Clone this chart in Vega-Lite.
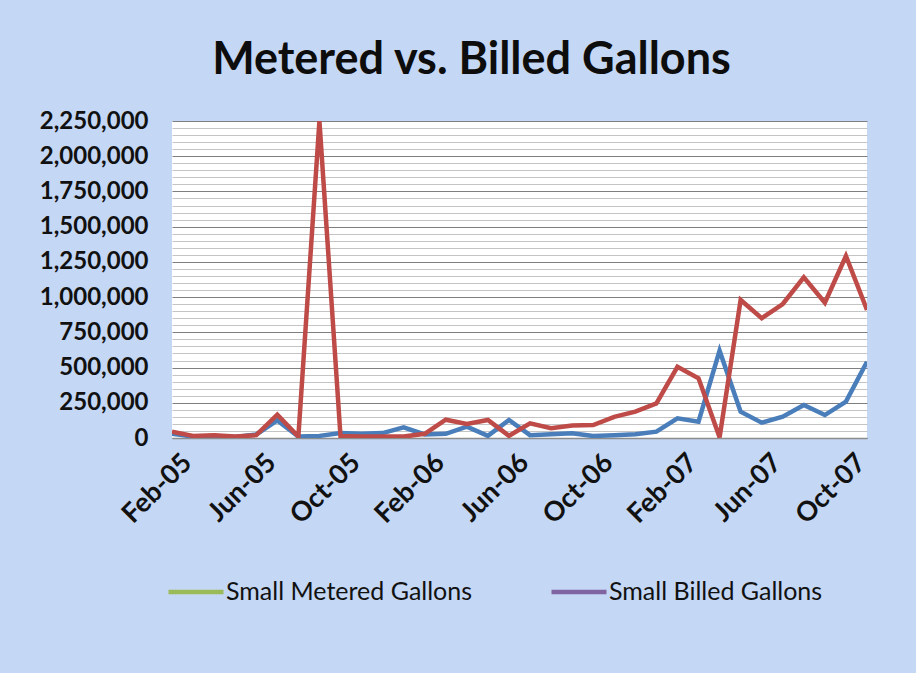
{
  "$schema": "https://vega.github.io/schema/vega-lite/v6.json",
  "width": 695,
  "height": 317,
  "autosize": {"type": "none"},
  "padding": {"left": 172, "top": 121, "right": 49, "bottom": 235},
  "background": "#c4d7f4",
  "title": {"text": "Metered vs. Billed Gallons", "font": "Lato", "fontSize": 45, "fontWeight": "bold", "color": "#0d0d0d", "anchor": "middle", "dx": -48, "offset": 26},
  "data": {"values": [
    {"month": "Feb-05", "Small Metered Gallons": 30000, "Small Billed Gallons": 45000},
    {"month": "Mar-05", "Small Metered Gallons": 10000, "Small Billed Gallons": 15000},
    {"month": "Apr-05", "Small Metered Gallons": 15000, "Small Billed Gallons": 20000},
    {"month": "May-05", "Small Metered Gallons": 8000, "Small Billed Gallons": 10000},
    {"month": "Jun-05", "Small Metered Gallons": 25000, "Small Billed Gallons": 20000},
    {"month": "Jul-05", "Small Metered Gallons": 125000, "Small Billed Gallons": 165000},
    {"month": "Aug-05", "Small Metered Gallons": 10000, "Small Billed Gallons": 10000},
    {"month": "Sep-05", "Small Metered Gallons": 15000, "Small Billed Gallons": 2250000},
    {"month": "Oct-05", "Small Metered Gallons": 35000, "Small Billed Gallons": 15000},
    {"month": "Nov-05", "Small Metered Gallons": 30000, "Small Billed Gallons": 10000},
    {"month": "Dec-05", "Small Metered Gallons": 35000, "Small Billed Gallons": 10000},
    {"month": "Jan-06", "Small Metered Gallons": 75000, "Small Billed Gallons": 10000},
    {"month": "Feb-06", "Small Metered Gallons": 25000, "Small Billed Gallons": 30000},
    {"month": "Mar-06", "Small Metered Gallons": 30000, "Small Billed Gallons": 130000},
    {"month": "Apr-06", "Small Metered Gallons": 80000, "Small Billed Gallons": 100000},
    {"month": "May-06", "Small Metered Gallons": 15000, "Small Billed Gallons": 128000},
    {"month": "Jun-06", "Small Metered Gallons": 128000, "Small Billed Gallons": 15000},
    {"month": "Jul-06", "Small Metered Gallons": 20000, "Small Billed Gallons": 104000},
    {"month": "Aug-06", "Small Metered Gallons": 26000, "Small Billed Gallons": 70000},
    {"month": "Sep-06", "Small Metered Gallons": 33000, "Small Billed Gallons": 88000},
    {"month": "Oct-06", "Small Metered Gallons": 14000, "Small Billed Gallons": 92000},
    {"month": "Nov-06", "Small Metered Gallons": 20000, "Small Billed Gallons": 150000},
    {"month": "Dec-06", "Small Metered Gallons": 26000, "Small Billed Gallons": 187000},
    {"month": "Jan-07", "Small Metered Gallons": 45000, "Small Billed Gallons": 246000},
    {"month": "Feb-07", "Small Metered Gallons": 140000, "Small Billed Gallons": 505000},
    {"month": "Mar-07", "Small Metered Gallons": 116000, "Small Billed Gallons": 424000},
    {"month": "Apr-07", "Small Metered Gallons": 620000, "Small Billed Gallons": 5000},
    {"month": "May-07", "Small Metered Gallons": 187000, "Small Billed Gallons": 980000},
    {"month": "Jun-07", "Small Metered Gallons": 109000, "Small Billed Gallons": 850000},
    {"month": "Jul-07", "Small Metered Gallons": 151000, "Small Billed Gallons": 951000},
    {"month": "Aug-07", "Small Metered Gallons": 234000, "Small Billed Gallons": 1140000},
    {"month": "Sep-07", "Small Metered Gallons": 163000, "Small Billed Gallons": 960000},
    {"month": "Oct-07", "Small Metered Gallons": 258000, "Small Billed Gallons": 1292000},
    {"month": "Nov-07", "Small Metered Gallons": 541000, "Small Billed Gallons": 909000}
  ]},
  "transform": [{"fold": ["Small Metered Gallons", "Small Billed Gallons"], "as": ["series", "gallons"]}],
  "encoding": {
    "x": {
      "field": "month", "type": "ordinal", "sort": null,
      "scale": {"type": "point", "padding": 0},
      "axis": {
        "title": null,
        "values": ["Feb-05", "Jun-05", "Oct-05", "Feb-06", "Jun-06", "Oct-06", "Feb-07", "Jun-07", "Oct-07"],
        "labelAngle": -45, "labelFont": "Lato", "labelFontSize": 27, "labelFontWeight": "bold", "labelColor": "#111111",
        "labelPadding": 11, "labelOffset": 6, "ticks": false, "grid": false,
        "domainColor": "#8c8c8c", "domainWidth": 1.5
      }
    },
    "y": {
      "field": "gallons", "type": "quantitative",
      "scale": {"domain": [0, 2250000], "nice": false},
      "axis": {
        "title": null,
        "values": [0, 50000, 100000, 150000, 200000, 250000, 300000, 350000, 400000, 450000, 500000, 550000, 600000, 650000, 700000, 750000, 800000, 850000, 900000, 950000, 1000000, 1050000, 1100000, 1150000, 1200000, 1250000, 1300000, 1350000, 1400000, 1450000, 1500000, 1550000, 1600000, 1650000, 1700000, 1750000, 1800000, 1850000, 1900000, 1950000, 2000000, 2050000, 2100000, 2150000, 2200000, 2250000],
        "labelExpr": "datum.value % 250000 === 0 ? format(datum.value, ',') : ''",
        "labelFont": "Lato", "labelFontSize": 24, "labelFontWeight": "bold", "labelColor": "#111111",
        "labelPadding": 24, "ticks": false, "domain": false,
        "grid": true,
        "gridColor": {"condition": {"test": "datum.value % 250000 === 0", "value": "#7f7f7f"}, "value": "#c4c4c4"},
        "gridWidth": 1
      }
    }
  },
  "layer": [
    {
      "mark": {"type": "line", "strokeWidth": 4.5, "clip": true},
      "encoding": {
        "color": {
          "field": "series", "type": "nominal",
          "scale": {"range": ["#be4b48", "#4a7ebb"]},
          "legend": null
        }
      }
    },
    {
      "mark": {"type": "line", "strokeWidth": 4.5, "strokeOpacity": 0, "clip": true},
      "encoding": {
        "stroke": {
          "field": "series", "type": "nominal",
          "scale": {"domain": ["Small Metered Gallons", "Small Billed Gallons"], "range": ["#9bbb59", "#8064a2"]},
          "legend": {
            "title": null, "orient": "none", "legendX": -6, "legendY": 441, "direction": "horizontal",
            "symbolType": "stroke", "symbolSize": 3025, "symbolStrokeWidth": 4.5, "symbolOpacity": 1,
            "labelFont": "Lato", "labelFontSize": 25, "labelColor": "#111111", "labelOffset": 0,
            "columnPadding": 69, "labelLimit": 400
          }
        }
      }
    }
  ],
  "config": {
    "view": {"fill": "#ffffff", "stroke": null}
  }
}
